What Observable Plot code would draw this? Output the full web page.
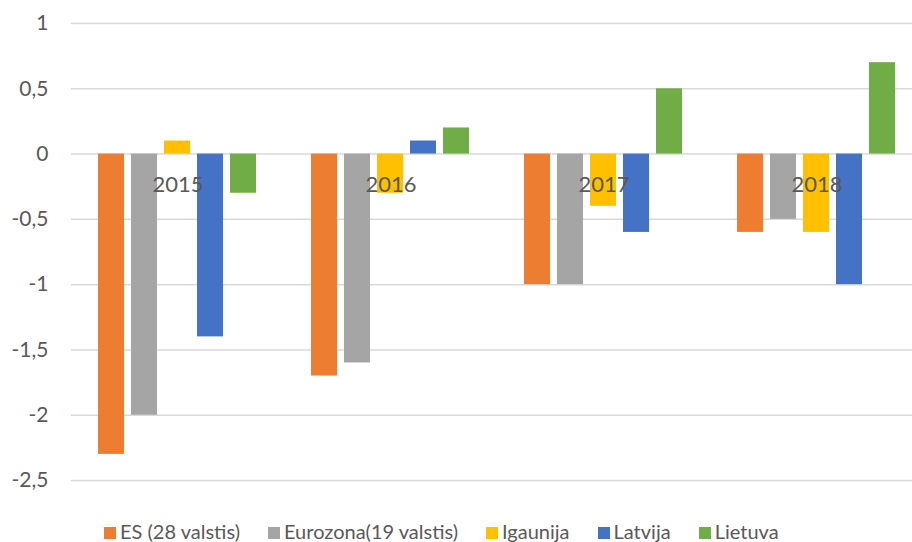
<!DOCTYPE html>
<html><head><meta charset="utf-8">
<script src="https://cdn.jsdelivr.net/npm/d3@7"></script>
<script src="https://cdn.jsdelivr.net/npm/@observablehq/plot@0.6"></script>
<style>
body{margin:0;background:#fff;font-family:Lato,"Open Sans",sans-serif;}
#wrap{width:912px;height:542px;overflow:hidden;position:relative;}
#legend{position:absolute;top:521px;left:104px;font-size:20px;line-height:20px;color:#595959;white-space:nowrap;}
#legend .it{display:inline-block;margin-right:28px;}
#legend .sw{display:inline-block;width:12px;height:12px;margin-right:4px;vertical-align:baseline;}
</style></head><body>
<div id="wrap"><div id="chart"></div><div id="legend"></div></div>
<script>
const years = ["2015", "2016", "2017", "2018"];
const series = ["ES (28 valstis)", "Eurozona(19 valstis)", "Igaunija", "Latvija", "Lietuva"];
const colors = ["#ED7D31", "#A5A5A5", "#FFC000", "#4472C4", "#70AD47"];
const esVals = [-2.3, -1.7, -1.0, -0.6];
const ezVals = [-2.0, -1.6, -1.0, -0.5];
const igVals = [0.1, -0.3, -0.4, -0.6];
const lvVals = [-1.4, 0.1, -0.6, -1.0];
const ltVals = [-0.3, 0.2, 0.5, 0.7];
const yTicks = [-2.5, -2, -1.5, -1, -0.5, 0, 0.5, 1];

const allVals = [esVals, ezVals, igVals, lvVals, ltVals];
const data = [];
years.forEach((yr, i) => series.forEach((s, j) => data.push({year: yr, series: s, value: allVals[j][i]})));

const fmt = d => String(d).replace(".", ",");

const chart = Plot.plot({
  width: 912, height: 500,
  marginTop: 23, marginBottom: 20, marginLeft: 71, marginRight: -11,
  style: {fontFamily: "Lato, 'Open Sans', sans-serif", fontSize: "21px", color: "#595959", background: "#fff"},
  fx: {domain: years, padding: 0, axis: null},
  x: {domain: series, paddingInner: 0.21, paddingOuter: 0.83, axis: null},
  y: {domain: [-2.5, 1], ticks: yTicks, tickFormat: fmt, tickSize: 0, tickPadding: 23, label: null},
  color: {domain: series, range: colors},
  marks: [
    Plot.ruleY(yTicks, {stroke: "#d9d9d9", strokeWidth: 1.5}),
    Plot.barY(data, {fx: "year", x: "series", y: "value", fill: "series"}),
    Plot.text(years, {fx: d => d, y: () => 0, text: d => d, dy: 31, fill: "#595959", fontSize: 22})
  ]
});
document.getElementById("chart").appendChild(chart);

const lg = document.getElementById("legend");
series.forEach((s, j) => {
  const it = document.createElement("span"); it.className = "it";
  const sw = document.createElement("span"); sw.className = "sw"; sw.style.background = colors[j];
  it.appendChild(sw); it.appendChild(document.createTextNode(s)); lg.appendChild(it);
});
</script></body></html>
